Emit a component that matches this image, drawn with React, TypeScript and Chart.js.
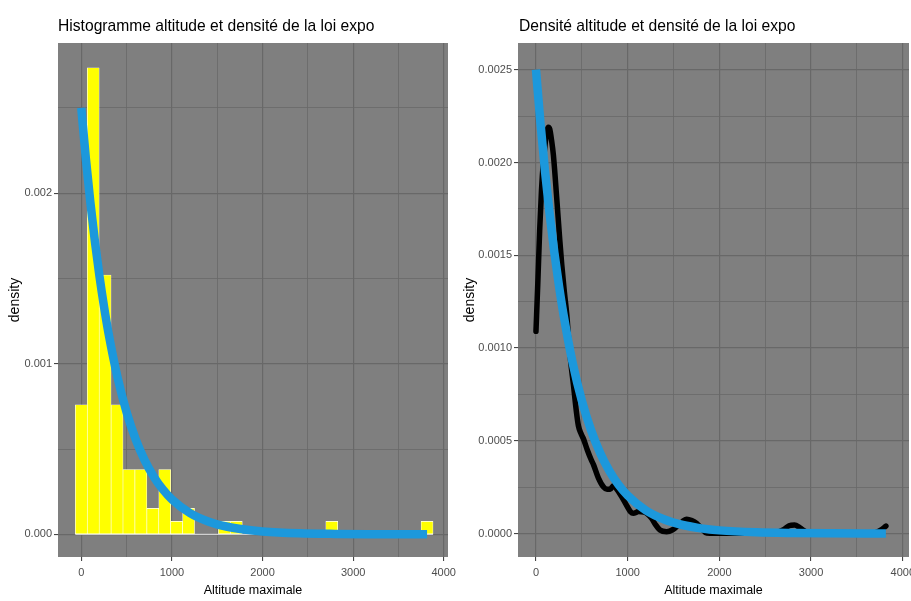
import React, { useEffect, useRef } from 'react';
import { Chart, registerables } from 'chart.js';

Chart.register(...registerables);

// ---------- data ----------
// histogram (left panel): bin centres and densities
const binCenters = [0, 132, 263, 395, 526, 658, 790, 921, 1053, 1184, 1316, 1448, 1579, 1711, 1842, 1974, 2106, 2237, 2369, 2500, 2632, 2764, 2895, 3027, 3158, 3290, 3422, 3553, 3685, 3816];
const binDensity = [0.00076, 0.002736, 0.00152, 0.00076, 0.00038, 0.00038, 0.000152, 0.00038, 0.000076, 0.000152, 0, 0, 0.000076, 0.000076, 0, 0, 0, 0, 0, 0, 0, 0.000076, 0, 0, 0, 0, 0, 0, 0, 0.000076];
const histEdges = [-66, 3882];

// exponential density curve (blue)
const expoX = [0, 50, 100, 150, 200, 250, 300, 400, 500, 600, 700, 800, 900, 1000, 1200, 1400, 1600, 1800, 2000, 2400, 2800, 3200, 3600, 3816];
const expoY = [0.0025, 0.002206, 0.001947, 0.001718, 0.001516, 0.001338, 0.001181, 0.00092, 0.000716, 0.000558, 0.000434, 0.000338, 0.000263, 0.000205, 0.000124, 0.0000755, 0.0000458, 0.0000278, 0.0000168, 0.0000062, 0.0000023, 0.0000008, 0.0000003, 0.0000002];

// kernel density of altitude (black, right panel)
const kdeX = [0, 20, 40, 60, 80, 100, 120, 135, 150, 170, 190, 226, 260, 281, 310, 336, 354, 380, 409, 440, 463, 490, 518, 560, 600, 628, 680, 737, 775, 810, 845, 880, 939, 990, 1030, 1061, 1120, 1180, 1261, 1300, 1352, 1425, 1490, 1534, 1600, 1643, 1700, 1752, 1810, 1861, 1950, 2100, 2400, 2600, 2700, 2760, 2820, 2880, 2950, 3050, 3300, 3600, 3700, 3760, 3816];
const kdeY = [0.00109, 0.00135, 0.00163, 0.00185, 0.002, 0.0021, 0.00217, 0.00219, 0.00218, 0.00212, 0.00204, 0.00181, 0.00158, 0.00145, 0.0013, 0.00118, 0.00106, 0.00092, 0.0008, 0.00066, 0.00058, 0.00054, 0.00051, 0.00045, 0.0004, 0.00037, 0.0003, 0.00025, 0.000238, 0.000238, 0.000258, 0.00024, 0.000195, 0.00015, 0.000118, 0.000109, 0.000118, 0.000115, 0.000082, 0.00005, 0.000019, 0.00001, 0.00002, 0.000037, 0.000065, 0.000077, 0.00007, 0.000055, 0.000025, 0.000002, 0.000001, 0.000001, 0.000001, 0.000003, 0.00002, 0.000042, 0.000046, 0.00003, 0.000008, 0.000002, 0.000001, 0.000001, 0.000004, 0.000018, 0.00004];

// axes: ranges and tick positions (major = labelled, minor = grid only)
const leftXRange = [-257, 4047];
const leftYRange = [-0.000133, 0.002881];
const rightXRange = [-196, 4068];
const rightYRange = [-0.0001267, 0.002644];

const xMajor = [0, 1000, 2000, 3000, 4000];
const xMinor = [500, 1500, 2500, 3500];
const leftYMajor = [0, 0.001, 0.002];
const leftYMinor = [0.0005, 0.0015, 0.0025];
const rightYMajor = [0, 0.0005, 0.001, 0.0015, 0.002, 0.0025];
const rightYMinor = [0.00025, 0.00075, 0.00125, 0.00175, 0.00225];

const titleLeft = 'Histogramme altitude et densité de la loi expo';
const titleRight = 'Densité altitude et densité de la loi expo';
const xTitle = 'Altitude maximale';
const yTitle = 'density';

// ---------- styling ----------
const FONT = "'Liberation Sans', Arial, Helvetica, sans-serif";
const BLUE = '#1c98dc';
const GRID = '#686868';

const inList = (v: number, list: number[]) => list.some((m) => Math.abs(m - v) < 1e-9);

const panelBg = {
  id: 'panelBg',
  beforeDraw(chart: any) {
    const { ctx, chartArea: a } = chart;
    ctx.save();
    ctx.fillStyle = '#7f7f7f';
    ctx.fillRect(a.left, a.top, a.right - a.left, a.bottom - a.top);
    ctx.restore();
  },
};

function makeTicks(major: number[], minor: number[]) {
  return [...major, ...minor].sort((a, b) => a - b).map((value) => ({ value }));
}

function gridOpts(major: number[]) {
  return {
    offset: false,
    color: GRID,
    lineWidth: (c: any) => (c.tick && inList(c.tick.value, major) ? 1.2 : 0.8),
    drawTicks: true,
    tickLength: 4,
    tickWidth: 1,
    tickColor: (c: any) => (c.tick && inList(c.tick.value, major) ? '#333333' : 'rgba(0,0,0,0)'),
  };
}

function xScale(range: number[]) {
  return {
    type: 'linear',
    min: range[0],
    max: range[1],
    offset: false,
    afterBuildTicks: (s: any) => {
      s.ticks = makeTicks(xMajor, xMinor);
    },
    ticks: {
      autoSkip: false,
      maxRotation: 0,
      minRotation: 0,
      padding: 5,
      color: '#4d4d4d',
      font: { family: FONT, size: 11 },
      callback: (v: number) => (inList(v, xMajor) ? String(Math.round(v)) : ''),
    },
    grid: gridOpts(xMajor),
    border: { display: false },
    title: {
      display: true,
      text: xTitle,
      color: '#000000',
      font: { family: FONT, size: 12.5 },
      padding: { top: 0, bottom: 3 },
    },
    afterFit: (s: any) => {
      s.height = 44;
    },
  };
}

function yScale(range: number[], major: number[], minor: number[], decimals: number, width: number) {
  return {
    type: 'linear',
    min: range[0],
    max: range[1],
    afterBuildTicks: (s: any) => {
      s.ticks = makeTicks(major, minor);
    },
    ticks: {
      autoSkip: false,
      padding: 2,
      color: '#4d4d4d',
      font: { family: FONT, size: 11 },
      callback: (v: number) => (inList(v, major) ? v.toFixed(decimals) : ''),
    },
    grid: gridOpts(major),
    border: { display: false },
    title: {
      display: true,
      text: yTitle,
      color: '#000000',
      font: { family: FONT, size: 14 },
      padding: { top: 6.5, bottom: 0 },
    },
    afterFit: (s: any) => {
      s.width = width;
    },
  };
}

const commonOptions = {
  responsive: false,
  maintainAspectRatio: false,
  animation: false,
  events: [],
  plugins: { legend: { display: false }, tooltip: { enabled: false }, title: { display: false } },
};

function expoDataset() {
  return {
    type: 'line',
    data: expoX.map((x, i) => ({ x, y: expoY[i] })),
    borderColor: BLUE,
    borderWidth: 8.5,
    pointRadius: 0,
    cubicInterpolationMode: 'monotone',
    borderCapStyle: 'butt',
    borderJoinStyle: 'round',
    fill: false,
  };
}

function leftConfig(): any {
  return {
    type: 'line',
    data: {
      datasets: [
        expoDataset(),
        {
          type: 'bar',
          data: binCenters.map((x, i) => ({ x, y: binDensity[i] })),
          backgroundColor: '#ffff00',
          borderColor: '#ffffff',
          borderWidth: 0.6,
          borderSkipped: false,
          barPercentage: 1,
          categoryPercentage: 1,
        },
        {
          type: 'line',
          data: histEdges.map((x) => ({ x, y: 0 })),
          borderColor: '#e8e8e8',
          borderWidth: 1,
          pointRadius: 0,
        },
      ],
    },
    options: {
      ...commonOptions,
      layout: { autoPadding: false, padding: { top: 43, right: 22, bottom: 0, left: 0 } },
      scales: {
        x: xScale(leftXRange),
        y: yScale(leftYRange, leftYMajor, leftYMinor, 3, 58),
      },
    },
    plugins: [panelBg],
  };
}

function rightConfig(): any {
  return {
    type: 'line',
    data: {
      datasets: [
        expoDataset(),
        {
          type: 'line',
          data: kdeX.map((x, i) => ({ x, y: kdeY[i] })),
          borderColor: '#000000',
          borderWidth: 5.5,
          pointRadius: 0,
          cubicInterpolationMode: 'monotone',
          borderCapStyle: 'round',
          borderJoinStyle: 'round',
          fill: false,
        },
      ],
    },
    options: {
      ...commonOptions,
      layout: { autoPadding: false, padding: { top: 43, right: 21, bottom: 0, left: 0 } },
      scales: {
        x: xScale(rightXRange),
        y: yScale(rightYRange, rightYMajor, rightYMinor, 4, 63),
      },
    },
    plugins: [panelBg],
  };
}

const titleStyle = (left: number): React.CSSProperties => ({
  position: 'absolute',
  left,
  top: 16.5,
  fontFamily: FONT,
  fontSize: 17,
  lineHeight: '17px',
  color: '#000000',
  whiteSpace: 'nowrap',
  transform: 'scaleX(0.92)',
  transformOrigin: 'left top',
});

export default function App() {
  const leftRef = useRef<HTMLCanvasElement>(null);
  const rightRef = useRef<HTMLCanvasElement>(null);

  useEffect(() => {
    const c1 = new Chart(leftRef.current as HTMLCanvasElement, leftConfig());
    const c2 = new Chart(rightRef.current as HTMLCanvasElement, rightConfig());
    return () => {
      c1.destroy();
      c2.destroy();
    };
  }, []);

  return (
    <div
      style={{
        position: 'absolute',
        left: 0,
        top: 0,
        width: 911,
        height: 601,
        background: '#ffffff',
        overflow: 'hidden',
      }}
    >
      <canvas
        ref={rightRef}
        width={475}
        height={601}
        style={{ position: 'absolute', left: 455, top: 0, width: 475, height: 601 }}
      />
      <canvas
        ref={leftRef}
        width={470}
        height={601}
        style={{ position: 'absolute', left: 0, top: 0, width: 470, height: 601 }}
      />
      <div style={titleStyle(58)}>{titleLeft}</div>
      <div style={titleStyle(519)}>{titleRight}</div>
    </div>
  );
}
